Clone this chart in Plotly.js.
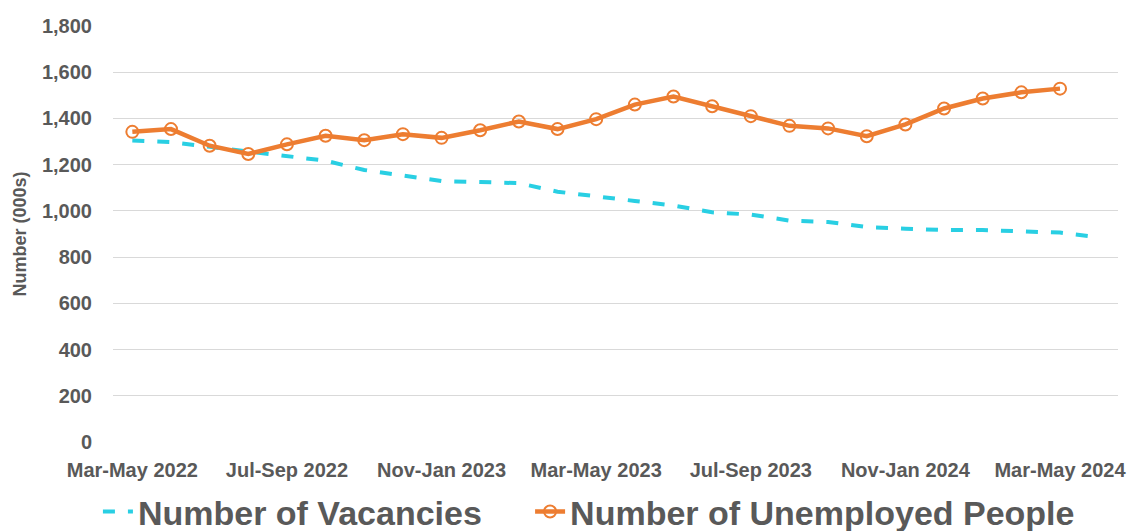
<!DOCTYPE html>
<html>
<head>
<meta charset="utf-8">
<script src="https://cdn.plot.ly/plotly-3.0.1.min.js"></script>
<style>html,body{margin:0;padding:0;background:#fff;}#chart{width:1135px;height:531px;}</style>
</head>
<body>
<div id="chart"></div>
<script>
const categories = [
  "Mar-May 2022","Apr-Jun 2022","May-Jul 2022","Jun-Aug 2022","Jul-Sep 2022","Aug-Oct 2022",
  "Sep-Nov 2022","Oct-Dec 2022","Nov-Jan 2023","Dec-Feb 2023","Jan-Mar 2023","Feb-Apr 2023",
  "Mar-May 2023","Apr-Jun 2023","May-Jul 2023","Jun-Aug 2023","Jul-Sep 2023","Aug-Oct 2023",
  "Sep-Nov 2023","Oct-Dec 2023","Nov-Jan 2024","Dec-Feb 2024","Jan-Mar 2024","Feb-Apr 2024",
  "Mar-May 2024","Apr-Jun 2024"
];
const vacancies = [1305,1298,1277,1256,1234,1217,1177,1153,1129,1125,1120,1083,1061,1043,1023,994,984,958,952,930,923,917,917,912,906,886];
const unemployed = [1342,1354,1282,1246,1288,1325,1306,1332,1316,1349,1387,1354,1397,1460,1495,1453,1410,1368,1357,1323,1374,1443,1486,1513,1529];
const tickLabels = ["Mar-May 2022","Jul-Sep 2022","Nov-Jan 2023","Mar-May 2023","Jul-Sep 2023","Nov-Jan 2024","Mar-May 2024"];
const yTicks = [0,200,400,600,800,1000,1200,1400,1600,1800];

const grey = "#595959";
const font = "Liberation Sans, Arial, sans-serif";
const legendFont = {family: font, size: 34, color: grey, weight: "bold"};

const traces = [
  {
    x: categories, y: vacancies, name: "Number of Vacancies", type: "scatter", mode: "lines",
    legend: "legend",
    line: {color: "#29CFE3", width: 4, dash: "12px,13px"}
  },
  {
    x: categories.slice(0, unemployed.length), y: unemployed, name: "Number of Unemployed People",
    type: "scatter", mode: "lines+markers",
    legend: "legend2",
    line: {color: "#ED7D31", width: 4.5},
    marker: {symbol: "circle-open", size: 12, color: "#ED7D31", line: {width: 2, color: "#ED7D31"}}
  }
];

const layout = {
  width: 1135, height: 531,
  margin: {l: 113, r: 17, t: 25.7, b: 88.5, autoexpand: false},
  paper_bgcolor: "#fff", plot_bgcolor: "#fff",
  showlegend: true,
  legend: {
    orientation: "h", x: -0.015, xanchor: "left", y: -0.168, yanchor: "middle",
    font: legendFont
  },
  legend2: {
    orientation: "h", x: 0.415, xanchor: "left", y: -0.168, yanchor: "middle",
    font: legendFont
  },
  xaxis: {
    type: "category", categoryorder: "array", categoryarray: categories,
    range: [-0.5, categories.length - 0.5],
    tickmode: "array", tickvals: tickLabels, ticktext: tickLabels,
    showgrid: false, zeroline: false, showline: false, ticks: "",
    tickfont: {family: font, size: 20, color: grey, weight: "bold"},
    ticklabelstandoff: 14
  },
  yaxis: {
    range: [0, 1800], tickmode: "array", tickvals: yTicks,
    tickformat: ",d",
    showgrid: true, gridcolor: "#D9D9D9", gridwidth: 1, zeroline: false, showline: false, ticks: "",
    tickfont: {family: font, size: 20, color: grey, weight: "bold"},
    ticklabelstandoff: 20,
    title: {text: "Number (000s)", standoff: 10, font: {family: font, size: 18, color: grey, weight: "bold"}}
  }
};

Plotly.newPlot("chart", traces, layout, {displayModeBar: false, staticPlot: true});
</script>
</body>
</html>
